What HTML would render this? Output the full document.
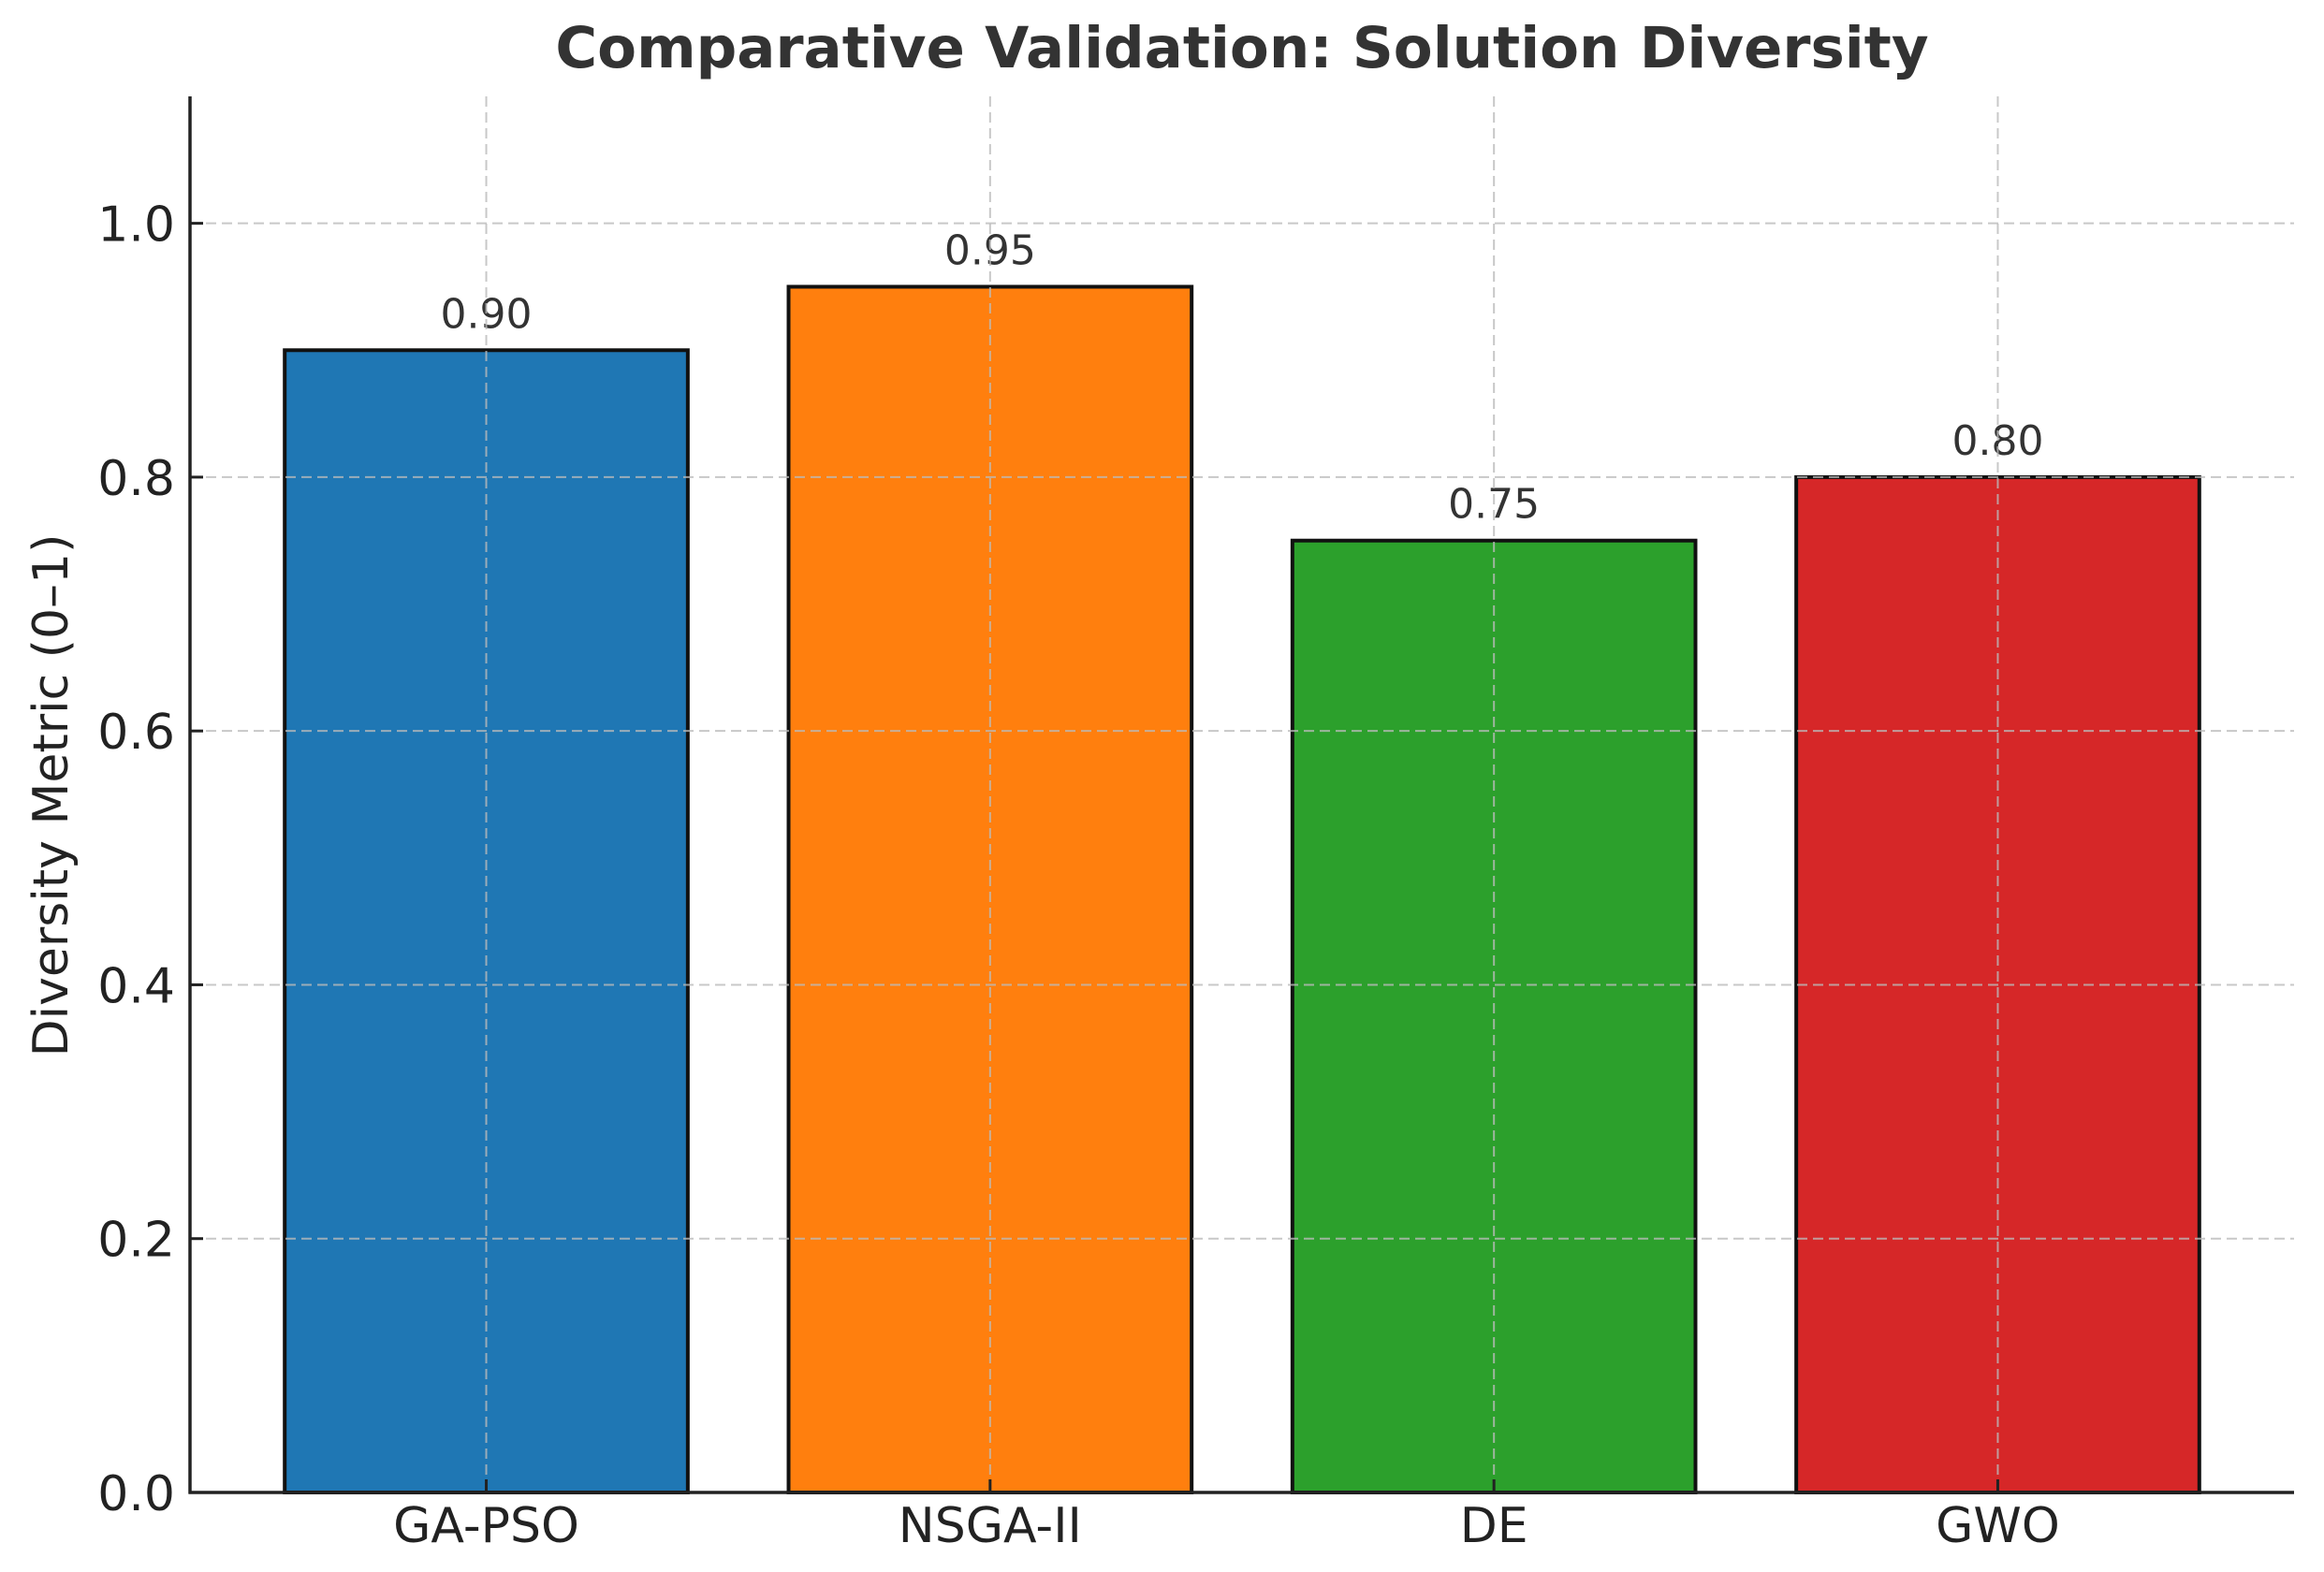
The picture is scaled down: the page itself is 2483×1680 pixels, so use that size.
<!DOCTYPE html>
<html><head><meta charset="utf-8"><style>
html,body{margin:0;padding:0;background:#fff;}
svg{display:block;font-family:"DejaVu Sans","Liberation Sans",sans-serif;}
</style></head><body>
<svg id="chart" width="2483" height="1680" viewBox="0 0 2483 1680">
<text x="1327" y="72" text-anchor="middle" font-size="61" font-weight="bold" fill="#333">Comparative Validation: Solution Diversity</text>
<g id="bars"></g>
<g id="grid"></g>
<g id="axes"></g>
<text transform="translate(72,850) rotate(-90)" text-anchor="middle" font-size="52" fill="#222">Diversity Metric (0–1)</text>
</svg>
<script>
const categories = ["GA-PSO","NSGA-II","DE","GWO"];
const values = [0.90,0.95,0.75,0.80];
const valueLabels = ["0.90","0.95","0.75","0.80"];
const colors = ["#1f77b4","#ff7f0e","#2ca02c","#d62728"];
const yTicks = [0,0.2,0.4,0.6,0.8,1.0];
const yTickLabels = ["0.0","0.2","0.4","0.6","0.8","1.0"];

const L=203,R=2451,T=103,B=1595;
const xMin=-0.588,xMax=categories.length-1+0.588,yMax=1.1;
const xs=i=>L+(i-xMin)/(xMax-xMin)*(R-L);
const ys=v=>B-v/yMax*(B-T);
const unit=(R-L)/(xMax-xMin);
const NS="http://www.w3.org/2000/svg";
function mk(tag,attrs,parent){const e=document.createElementNS(NS,tag);for(const k in attrs)e.setAttribute(k,attrs[k]);parent.appendChild(e);return e;}
const gb=document.getElementById('bars'),gg=document.getElementById('grid'),ga=document.getElementById('axes');
categories.forEach((c,i)=>{
  const w=0.8*unit,x=xs(i)-w/2,y=ys(values[i]);
  const r=mk('rect',{x:x,y:y,width:w,height:B-y,fill:colors[i],stroke:'#111','stroke-width':4},gb);
  
  
  const t=mk('text',{x:xs(i),y:y-24,'text-anchor':'middle','font-size':44,fill:'#333'},gb);
  t.textContent=valueLabels[i];
  
  
  const gl=mk('line',{x1:xs(i),x2:xs(i),y1:T,y2:B,stroke:'#bbb','stroke-width':2,'stroke-dasharray':'11,6',opacity:0.8},gg);
  
  
  const tk=mk('line',{x1:xs(i),x2:xs(i),y1:B,y2:B-14,stroke:'#222','stroke-width':3},ga);
  
  
  const xl=mk('text',{x:xs(i),y:1648,'text-anchor':'middle','font-size':52,fill:'#222'},ga);
  xl.textContent=c;
  
  
});
yTicks.forEach((v,i)=>{
  const y=ys(v);
  if(v>0){const gl=mk('line',{x1:L,x2:R,y1:y,y2:y,stroke:'#bbb','stroke-width':2,'stroke-dasharray':'11,6',opacity:0.8},gg);
  
  }
  const tk=mk('line',{x1:L,x2:L+14,y1:y,y2:y,stroke:'#222','stroke-width':3},ga);
  
  
  const t=mk('text',{x:187,y:y+19,'text-anchor':'end','font-size':52,fill:'#222'},ga);
  t.textContent=yTickLabels[i];
  
  
});
const ya=mk('line',{x1:L,x2:L,y1:T,y2:B+1.5,stroke:'#222','stroke-width':3.5},ga);


const xa=mk('line',{x1:L-1.5,x2:R,y1:B,y2:B,stroke:'#222','stroke-width':3.5},ga);


</script>
</body></html>
